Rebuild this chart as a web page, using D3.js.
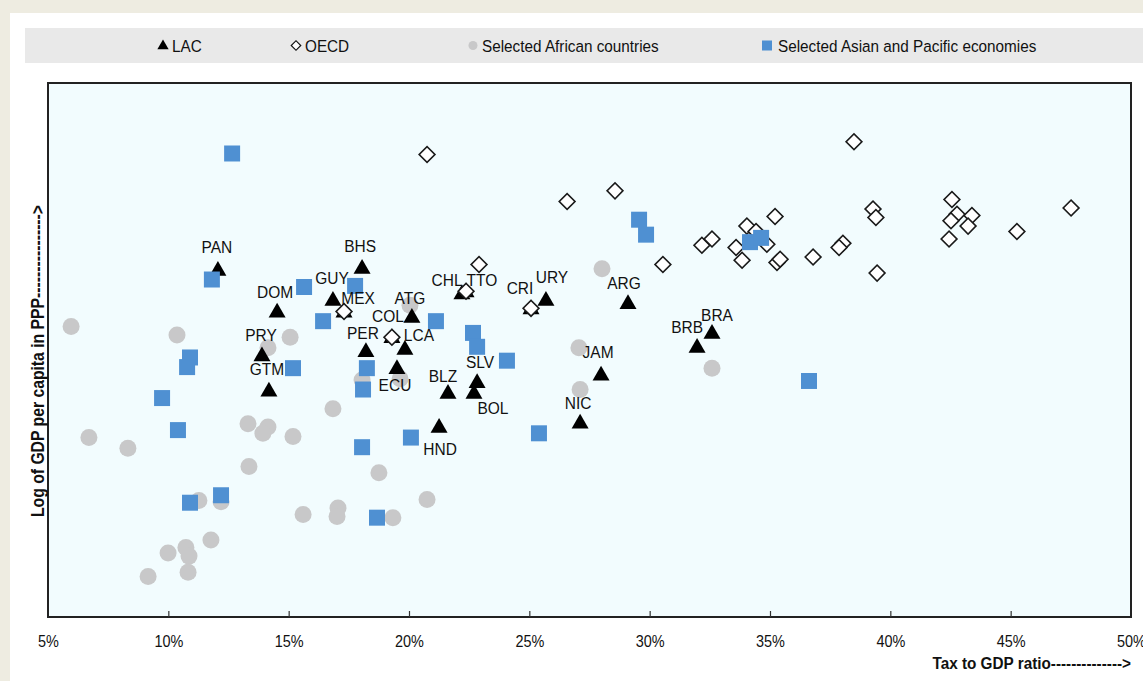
<!DOCTYPE html>
<html><head><meta charset="utf-8">
<script src="https://cdn.jsdelivr.net/npm/d3@7"></script>
<style>body{margin:0;background:#eeece1;} svg{display:block}</style>
</head><body><svg id="c" width="1143" height="681"></svg>
<script>
// ---------- DATA ----------
const lacNames = ["PAN","BHS","GUY","DOM","MEX","COL","ATG","LCA","ECU","PER","PRY","GTM","CHL","TTO","CRI","URY","ARG","BRB","BRA","JAM","NIC","SLV","BOL","BLZ","HND"];
const lacTax   = [12.06,18.05,16.84,14.52,17.30,19.29,20.12,19.83,19.50,18.21,13.89,14.18,22.37,22.20,25.07,25.69,29.10,31.97,32.59,27.98,27.11,22.83,22.70,21.62,21.25];
const lacGdp   = [9.55,9.57,9.27,9.16,9.16,8.92,9.11,8.81,8.63,8.79,8.75,8.42,9.35,9.33,9.19,9.27,9.24,8.83,8.96,8.57,8.12,8.50,8.40,8.40,8.08];

const oecdTax = [17.30,19.29,22.37,25.07,20.75,26.57,28.56,22.91,30.55,32.17,32.59,33.59,33.84,34.04,34.42,34.87,35.21,35.29,35.42,38.49,36.79,38.03,37.87,39.28,39.40,39.45,42.56,42.77,42.52,43.39,43.23,42.44,45.26,47.51];
const oecdGdp = [9.16,8.92,9.35,9.19,10.63,10.19,10.29,9.60,9.60,9.78,9.84,9.76,9.64,9.96,9.91,9.79,10.05,9.62,9.65,10.75,9.67,9.80,9.76,10.12,10.04,9.52,10.21,10.07,10.01,10.06,9.96,9.84,9.91,10.13];

const africaTax = [5.96,10.36,15.06,14.14,18.05,16.84,13.31,14.14,13.93,15.18,6.70,8.32,13.35,18.75,11.27,12.19,15.60,17.05,17.01,19.33,11.77,9.99,10.73,10.86,9.16,10.82,20.04,20.75,27.06,27.11,32.59,28.02,19.63];
const africaGdp = [9.02,8.94,8.92,8.82,8.52,8.25,8.11,8.08,8.02,7.99,7.98,7.88,7.71,7.65,7.39,7.38,7.26,7.32,7.24,7.23,7.02,6.90,6.95,6.87,6.68,6.72,9.22,7.40,8.82,8.43,8.63,9.56,8.53];

const asiaTax = [12.65,11.81,15.64,17.76,16.43,10.90,10.78,9.74,10.40,15.18,18.25,18.09,18.05,10.90,12.19,18.67,21.12,22.66,22.83,24.07,20.08,25.40,29.56,29.85,34.17,34.63,36.62];
const asiaGdp = [10.64,9.46,9.39,9.40,9.07,8.73,8.64,8.35,8.05,8.63,8.63,8.43,7.89,7.37,7.44,7.23,9.07,8.96,8.83,8.70,7.98,8.02,10.02,9.88,9.81,9.85,8.51];

const xTicks = [5,10,15,20,25,30,35,40,45,50];
const legendLabels = ["LAC","OECD","Selected African countries","Selected Asian and Pacific economies"];
const xTitle = "Tax to GDP ratio-------------->";
const yTitle = "Log of GDP per capita in PPP---------------->";

// ---------- LAYOUT ----------
const W = 1143, H = 681;
const plot = {l:48, t:83, r:1131, b:617};
const svg = d3.select("#c");
const font = "'Liberation Sans',Arial,sans-serif";

svg.append("rect").attr("width",W).attr("height",H).attr("fill","#eeece1");
svg.append("rect").attr("x",10).attr("y",13).attr("width",W-10).attr("height",H-13).attr("fill","#ffffff");

const x = d3.scaleLinear().domain([5,50]).range([plot.l, plot.r]);
const y = d3.scaleLinear().domain([6.3,11.3]).range([plot.b, plot.t]);

// plot background
svg.append("rect").attr("x",plot.l).attr("y",plot.t).attr("width",plot.r-plot.l).attr("height",plot.b-plot.t).attr("fill","#f2fcfe");

const triSym = d3.symbol().type(d3.symbolTriangle).size(125);
const sqSym = d3.symbol().type(d3.symbolSquare).size(125);
const blueSym = d3.symbol().type(d3.symbolSquare).size(256);

// Africa circles
svg.append("g").selectAll("circle").data(africaTax.map((v,i)=>[v,africaGdp[i]])).join("circle")
  .attr("cx",d=>x(d[0])).attr("cy",d=>y(d[1])).attr("r",8.5).attr("fill","#c8c8c9");

// LAC triangles
svg.append("g").selectAll("path").data(lacTax.map((v,i)=>[v,lacGdp[i]])).join("path")
  .attr("d",triSym).attr("transform",d=>`translate(${x(d[0])},${y(d[1])+1})`).attr("fill","#000");

// OECD diamonds
svg.append("g").selectAll("path").data(oecdTax.map((v,i)=>[v,oecdGdp[i]])).join("path")
  .attr("d",sqSym).attr("transform",d=>`translate(${x(d[0])},${y(d[1])}) rotate(45)`)
  .attr("fill","#fff").attr("stroke","#1a1a1a").attr("stroke-width",1.6);

// Asia squares
svg.append("g").selectAll("path").data(asiaTax.map((v,i)=>[v,asiaGdp[i]])).join("path")
  .attr("d",blueSym).attr("transform",d=>`translate(${x(d[0])},${y(d[1])})`).attr("fill","#4f90d2");

// LAC labels
const labelOffset = {PAN:[-1,-23],BHS:[-2,-21],GUY:[-1,-21],DOM:[-2,-19],MEX:[14,-13],COL:[-4,-21],ATG:[-2,-19],
  LCA:[14,-14],ECU:[-2,17],PER:[-3,-18],PRY:[-1,-20],GTM:[-2,-21],CHL:[-19,-11],TTO:[20,-13],CRI:[-11,-20],
  URY:[6,-22],ARG:[-4,-20],BRB:[-10,-19],BRA:[5,-18],JAM:[-3,-22],NIC:[-2,-19],SLV:[3,-20],BOL:[19,16],BLZ:[-5,-16],HND:[1,22]};
svg.append("g").selectAll("text").data(lacNames.map((n,i)=>({n,tx:lacTax[i],g:lacGdp[i]}))).join("text")
  .attr("transform",d=>`translate(${x(d.tx)+labelOffset[d.n][0]},${y(d.g)+labelOffset[d.n][1]}) scale(0.94,1)`)
  .attr("text-anchor","middle").attr("dominant-baseline","central")
  .attr("font-family",font).attr("font-size",16.5).attr("fill","#111").text(d=>d.n);

// frame
svg.append("rect").attr("x",plot.l).attr("y",plot.t).attr("width",plot.r-plot.l).attr("height",plot.b-plot.t)
  .attr("fill","none").attr("stroke","#222").attr("stroke-width",2);

// x axis
const xAxis = d3.axisBottom(x).tickValues(xTicks).tickFormat(d=>d+"%").tickSize(-6).tickPadding(18);
const gx = svg.append("g").attr("transform",`translate(0,${plot.b})`).call(xAxis);
gx.select(".domain").remove();
gx.selectAll(".tick line").attr("stroke","#333").attr("stroke-width",1.2)
  .attr("display",d=>(d===5||d===50)?"none":null);
gx.selectAll("text").attr("font-family",font).attr("font-size",17).attr("fill","#111")
  .attr("transform","scale(0.85,1)");

// axis titles
svg.append("text").attr("transform","translate(1131,669) scale(0.9,1)").attr("text-anchor","end")
  .attr("font-family",font).attr("font-weight","bold").attr("font-size",17).attr("fill","#111")
  .text(xTitle);
svg.append("text").attr("transform","translate(44,361) rotate(-90) scale(0.9,1)").attr("text-anchor","middle")
  .attr("font-family",font).attr("font-weight","bold").attr("font-size",17.5).attr("fill","#111")
  .text(yTitle);

// legend
svg.append("rect").attr("x",25).attr("y",28).attr("width",W-25).attr("height",35).attr("fill","#e9e9e9");
const lg = svg.append("g").attr("font-family",font).attr("font-size",17).attr("fill","#111");
const legX = [163,296,473,767];
lg.append("path").attr("d",d3.symbol().type(d3.symbolTriangle).size(55)).attr("transform",`translate(${legX[0]},46)`).attr("fill","#000");
lg.append("path").attr("d",d3.symbol().type(d3.symbolSquare).size(45)).attr("transform",`translate(${legX[1]},45.5) rotate(45)`).attr("fill","#fff").attr("stroke","#111").attr("stroke-width",1.2);
lg.append("circle").attr("cx",legX[2]).attr("cy",45.5).attr("r",4.5).attr("fill","#c8c8c9");
lg.append("rect").attr("x",legX[3]-5).attr("y",40.5).attr("width",10).attr("height",10).attr("fill","#4f90d2");
legendLabels.forEach((t,i)=>{
  lg.append("text").attr("transform",`translate(${legX[i]+(i===3?11:9)},46) scale(0.9,1)`)
    .attr("dominant-baseline","central").text(t);
});
</script></body></html>
